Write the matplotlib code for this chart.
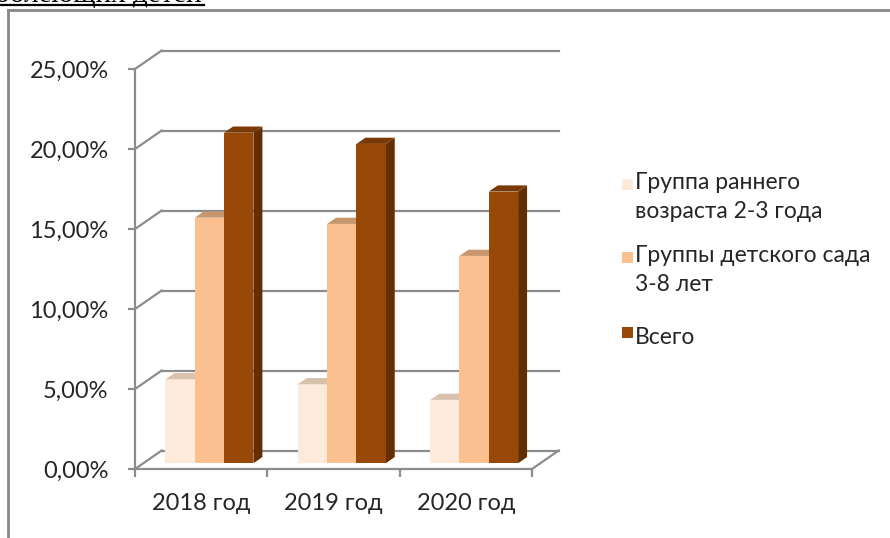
import matplotlib
matplotlib.use("Agg")
import matplotlib.pyplot as plt
from matplotlib.patches import Polygon, Rectangle
from matplotlib.lines import Line2D
from matplotlib.ticker import FuncFormatter

# data
years = ["2018 год", "2019 год", "2020 год"]
series_names = ["Группа раннего\nвозраста 2-3 года", "Группы детского сада\n3-8 лет", "Всего"]
early_group = [5.25, 4.94, 3.96]
kinder_group = [15.35, 14.96, 12.96]
total = [20.66, 19.96, 16.98]
y_ticks = [0, 5, 10, 15, 20, 25]

front_colors = ["#FDEADA", "#FAC090", "#984807"]
top_colors = ["#D8C2AE", "#C8966C", "#7A3905"]
side_colors = ["#C9B29E", "#B9855C", "#632E04"]
grid_col = "#8C8C8C"

plt.rcParams["font.family"] = ["Lato", "DejaVu Sans"]
W, H = 890, 538
fig = plt.figure(figsize=(W / 100, H / 100), dpi=100)

ax = fig.add_axes([135 / W, (H - 469) / H, 397 / W, 400 / H])
ax.set_xlim(0, 3)
ax.set_ylim(0, 25)
ax.patch.set_visible(False)

# pixel -> data scale, used for the oblique depth
sx = ax.bbox.width / 3
sy = ax.bbox.height / 25
ddx, ddy = 26.7 / sx, 18.5 / sy

# back wall grid, side wall diagonals, floor
for v in y_ticks:
    ax.add_line(Line2D([0, ddx], [v, v + ddy], color=grid_col, lw=1.6, clip_on=False, zorder=1))
    ax.add_line(Line2D([ddx, 3 + ddx], [v + ddy, v + ddy], color=grid_col, lw=1.6, clip_on=False, zorder=1))
ax.add_line(Line2D([3, 3 + ddx], [0, ddy], color=grid_col, lw=1.6, clip_on=False, zorder=1))

for s in ["top", "right"]:
    ax.spines[s].set_visible(False)
for s in ["left", "bottom"]:
    ax.spines[s].set_color(grid_col)
    ax.spines[s].set_linewidth(1.6)

ax.set_yticks(y_ticks)
ax.yaxis.set_major_formatter(FuncFormatter(lambda v, p: f"{v:.2f}%".replace(".", ",")))
ax.tick_params(axis="y", length=5, width=1.6, color=grid_col, pad=14, labelsize=17, labelcolor="#262626")
ax.set_xticks([0, 1, 2, 3])
ax.set_xticklabels([])
ax.set_xticks([0.5, 1.5, 2.5], minor=True)
ax.set_xticklabels(years, minor=True)
ax.tick_params(axis="x", which="major", length=6, width=1.6, color=grid_col)
ax.tick_params(axis="x", which="minor", length=0, pad=17, labelsize=17, labelcolor="#262626")

# bars
f0 = 0.31
bdx, bdy = 9.0 / sx, 6.2 / sy
w = 0.2215
z = 3
for i in range(3):
    for j, vals in enumerate([early_group, kinder_group, total]):
        h = vals[i]
        x0 = i + 0.5 + (j - 1.5) * w + f0 * ddx
        x1 = x0 + w
        b = f0 * ddy
        t = b + h
        ax.bar(x0, h, bottom=b, width=w, align="edge", color=front_colors[j], zorder=z)
        ax.add_patch(Polygon([(x0, t), (x1, t), (x1 + bdx, t + bdy), (x0 + bdx, t + bdy)],
                             closed=True, facecolor=top_colors[j], edgecolor="none", zorder=z, clip_on=False))
        ax.add_patch(Polygon([(x1, b), (x1 + bdx, b + bdy), (x1 + bdx, t + bdy), (x1, t)],
                             closed=True, facecolor=side_colors[j], edgecolor="none", zorder=z - 0.5, clip_on=False))
        z += 1

# legend
legend_y = [185, 258, 333]
text_y = [197, 270, 338]
for j, name in enumerate(series_names):
    fig.patches.append(Rectangle((622 / W, 1 - (legend_y[j] + 5) / H), 11 / W, 11 / H,
                                 transform=fig.transFigure, facecolor=front_colors[j], edgecolor="none"))
    fig.text(635 / W, 1 - text_y[j] / H, name, fontsize=16.5, color="#262626", va="center",
             linespacing=1.5)

# chart frame and cut-off document text above it
fig.add_artist(Line2D([8 / W, 8 / W], [0, 1 - 10 / H], color="#878787", lw=2, transform=fig.transFigure))
fig.add_artist(Line2D([8 / W, 1], [1 - 10 / H, 1 - 10 / H], color="#878787", lw=2, transform=fig.transFigure))
fig.text(202 / W, 1 - 1.5 / H, "болеющих детей", family="Liberation Serif", fontsize=21, ha="right", va="baseline")
fig.add_artist(Line2D([0, 204 / W], [1 - 5 / H, 1 - 5 / H], color="black", lw=1.6, transform=fig.transFigure))

fig.savefig("out.png", dpi=100)
